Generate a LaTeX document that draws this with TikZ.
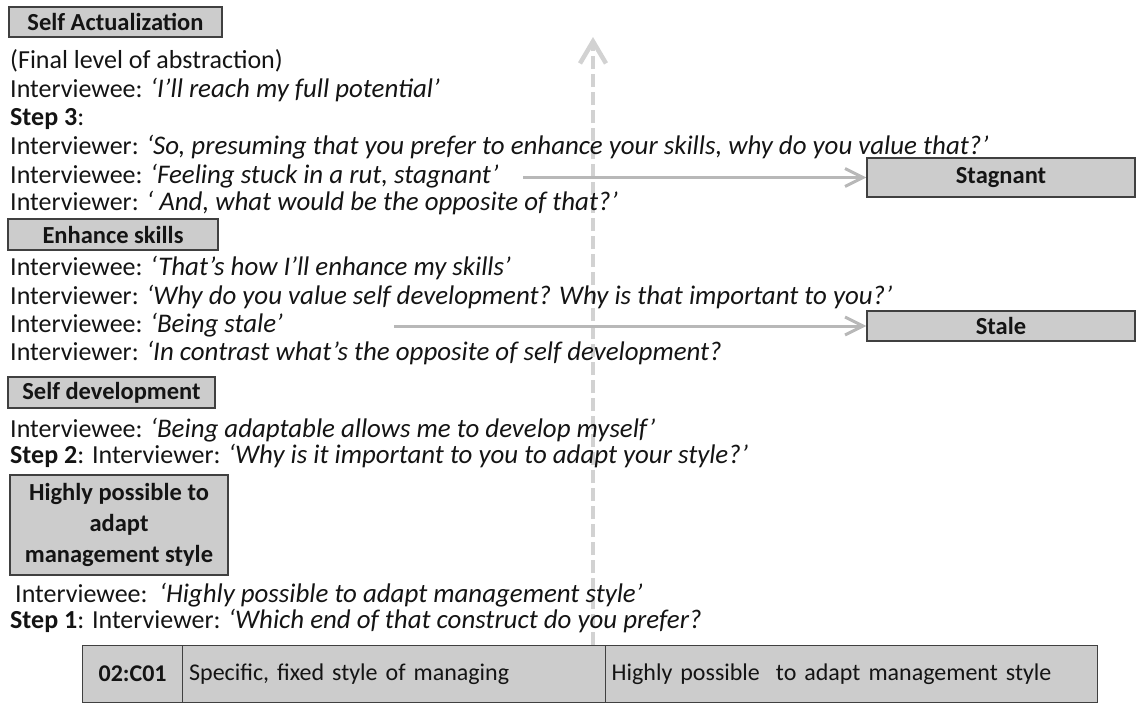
\documentclass[tikz,border=0pt]{standalone}
\usepackage{fontspec}
\setmainfont{Carlito}
\usetikzlibrary{arrows.meta,backgrounds}
\definecolor{boxgrey}{HTML}{CCCCCC}
\definecolor{arrowgrey}{HTML}{B8B8B8}
\definecolor{dashgrey}{HTML}{D2D2D2}
\definecolor{inkgrey}{HTML}{141414}
\newcommand{\spoken}[1]{{\fontsize{26.9}{30}\selectfont\itshape #1}}
\begin{document}
\begin{tikzpicture}[x=1pt, y=-1pt,
		every node/.style = {text=inkgrey, font=\fontsize{26}{30}\selectfont},
		say/.style = {anchor=west, inner sep=0pt},
		level box/.style = {draw=black!75, line width=1.3pt, fill=boxgrey, inner sep=0pt, font=\fontsize{24.5}{31}\selectfont\bfseries, align=center},
		cell/.style = {draw=black!75, line width=1.3pt, fill=boxgrey, inner sep=0pt, minimum height=57, anchor=north west, font=\fontsize{24}{28}\selectfont},
		ladder/.style = {draw=arrowgrey, line width=3pt, -{Straight Barb[length=18pt, width=18pt, line width=3pt]}}]
		\useasboundingbox (0,0) rectangle (1138,702);
		
		% ladder levels
		\node[level box, minimum width=213, minimum height=30] (actual) at (115.5,22) {Self Actualization};
		\node[level box, minimum width=210, minimum height=31] (enhance) at (113,234.5) {Enhance skills};
		\node[level box, minimum width=207, minimum height=31] (develop) at (111.5,392.5) {Self development};
		\node[level box, minimum width=218, minimum height=100] (adapt) at (119,525) {Highly possible to\\adapt\\management style};
		\node[level box, minimum width=268, minimum height=39] (stagnant) at (1001,177.5) {Stagnant};
		\node[level box, minimum width=268, minimum height=30] (stale) at (1001,326) {Stale};
		
		% interview lines
		\node[say] (l1) at (10,61) {(Final level of abstraction)};
		\node[say] (l2) at (10,90) {Interviewee: \spoken{‘I’ll reach my full potential’}};
		\node[say] (l3) at (10,119) {\textbf{Step 3}:};
		\node[say] (l4) at (10,147) {Interviewer: \spoken{‘So, presuming that you prefer to enhance your skills, why do you value that?’}};
		\node[say] (l5) at (10,176) {Interviewee: \spoken{‘Feeling stuck in a rut, stagnant’}};
		\node[say] (l6) at (10,203) {Interviewer: \spoken{‘ And, what would be the opposite of that?’}};
		\node[say] (l7) at (10,268) {Interviewee: \spoken{‘That’s how I’ll enhance my skills’}};
		\node[say] (l8) at (10,297) {Interviewer: \spoken{‘Why do you value self development? Why is that important to you?’}};
		\node[say] (l9) at (10,325) {Interviewee: \spoken{‘Being stale’}};
		\node[say] (l10) at (10,353) {Interviewer: \spoken{‘In contrast what’s the opposite of self development?}};
		\node[say] (l11) at (10,430) {Interviewee: \spoken{‘Being adaptable allows me to develop myself’}};
		\node[say] (l12) at (10,456) {\textbf{Step 2}: Interviewer: \spoken{‘Why is it important to you to adapt your style?’}};
		\node[say] (l13) at (15,595) {Interviewee:\ \ \spoken{‘Highly possible to adapt management style’}};
		\node[say] (l14) at (10,621) {\textbf{Step 1}: Interviewer: \spoken{‘Which end of that construct do you prefer?}};
		
		% construct row
		\node[cell, minimum width=100, font=\fontsize{24}{28}\selectfont\bfseries] (code) at (82,645) {02:C01};
		\node[cell, minimum width=423, text width=410, align=left] (left) at (182,645) {Specific, fixed style of managing};
		\node[cell, minimum width=492, text width=480, align=left] (right) at (605,645) {Highly possible\ \ to adapt management style};
		
		% arrows, behind the text
		\coordinate (top) at (593,37);
		\coordinate (base) at (593,645);
		\coordinate (from stagnant) at (523,177.5);
		\coordinate (from stale) at (394,326);
		\begin{scope}[on background layer]
			\draw[draw=dashgrey, line width=4.5pt, dash pattern=on 13pt off 5pt,
				-{Straight Barb[length=22pt, width=26pt, line width=4.5pt]}] (base) -- (top);
			\draw[ladder] (from stagnant) -- (stagnant.west);
			\draw[ladder] (from stale) -- (stale.west);
		\end{scope}
	\end{tikzpicture}
\end{document}
